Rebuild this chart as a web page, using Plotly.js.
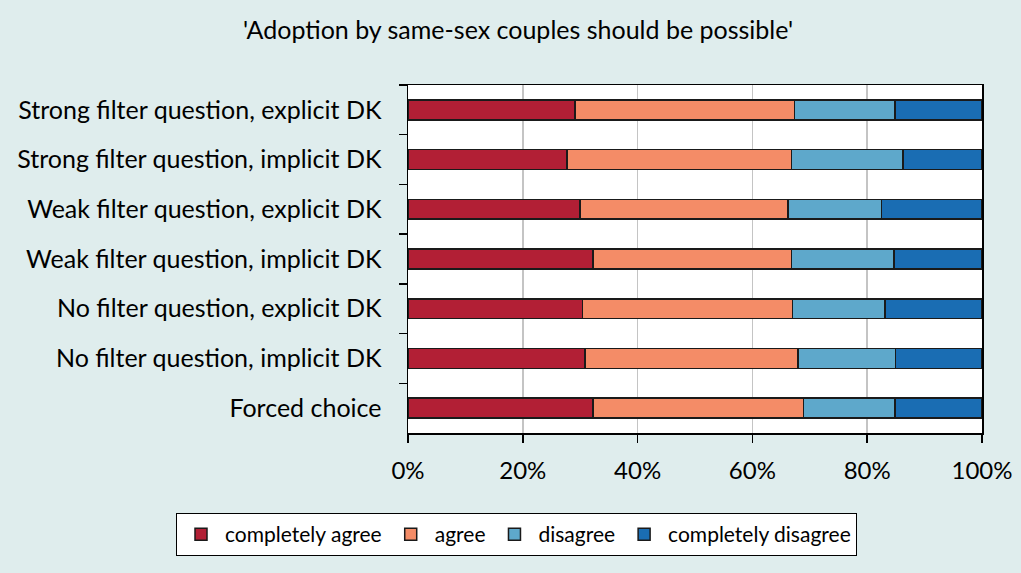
<!DOCTYPE html>
<html>
<head>
<meta charset="utf-8">
<script src="https://cdn.plot.ly/plotly-3.0.1.min.js"></script>
<style>html,body{margin:0;padding:0;background:#DFEDED;}#chart{width:1021px;height:573px;}</style>
</head>
<body>
<div id="chart"></div>
<script>
const categories = [
  "Strong filter question, explicit DK",
  "Strong filter question, implicit DK",
  "Weak filter question, explicit DK",
  "Weak filter question, implicit DK",
  "No filter question, explicit DK",
  "No filter question, implicit DK",
  "Forced choice"
];
const completelyAgree    = [29.1, 27.7, 30.0, 32.2, 30.4, 30.8, 32.2];
const agree              = [38.2, 39.1, 36.2, 34.6, 36.6, 37.1, 36.7];
const disagree           = [17.5, 19.4, 16.3, 17.9, 16.1, 17.0, 15.9];
const completelyDisagree = [15.2, 13.8, 17.5, 15.3, 16.9, 15.1, 15.2];
const seriesNames = ["completely agree", "agree", "disagree", "completely disagree"];
const seriesColors = ["#B21F35", "#F48C67", "#5EA8CB", "#1A6DB3"];
const tickVals = [0, 20, 40, 60, 80, 100];
const tickText = ["0%", "20%", "40%", "60%", "80%", "100%"];

const FONT = "Lato, 'Open Sans', sans-serif";
const seriesData = [completelyAgree, agree, disagree, completelyDisagree];
const traces = seriesData.map((vals, i) => ({
  type: "bar",
  orientation: "h",
  name: seriesNames[i],
  y: categories,
  x: vals,
  width: 0.4,
  marker: {color: seriesColors[i], line: {color: "#1a1a1a", width: 1.5}},
  hoverinfo: "x+y+name"
}));

const PL = 408, PW = 574, PT = 85, PH = 348;
const layout = {
  width: 1021, height: 573,
  paper_bgcolor: "#DFEDED",
  plot_bgcolor: "#FFFFFF",
  barmode: "stack",
  bargap: 0.6,
  margin: {l: PL, r: 1021 - PL - PW, t: PT, b: 573 - PT - PH},
  font: {family: FONT, color: "#000000"},
  title: {
    text: "'Adoption by same-sex couples should be possible'",
    font: {family: FONT, size: 25, color: "#000"},
    xref: "container", x: 518/1021, xanchor: "center",
    yref: "container", y: 1 - 30/573, yanchor: "middle"
  },
  xaxis: {
    range: [0, 100],
    tickvals: tickVals, ticktext: tickText,
    ticks: "outside", ticklen: 8, tickcolor: "#000", tickwidth: 1.5,
    showline: true, linecolor: "#000", linewidth: 1.5, mirror: true,
    showgrid: true, gridcolor: "#C4C4C4", gridwidth: 1.5,
    zeroline: false,
    tickfont: {family: FONT, size: 24, color: "#000"},
    ticklabelstandoff: 8,
    fixedrange: true
  },
  yaxis: {
    type: "category",
    autorange: "reversed",
    ticks: "outside", ticklen: 8, tickcolor: "#000", tickwidth: 1.5,
    tickson: "boundaries",
    showline: true, linecolor: "#000", linewidth: 1.5, mirror: true,
    showgrid: false,
    tickfont: {family: FONT, size: 25, color: "#000"},
    ticklabelstandoff: 20,
    fixedrange: true
  },
  showlegend: true,
  legend: {
    orientation: "h",
    xref: "paper", x: (176 - PL) / PW, xanchor: "left",
    yref: "paper", y: (PT + PH - 513) / PH, yanchor: "top",
    bgcolor: "#FFFFFF", bordercolor: "#000", borderwidth: 1,
    font: {family: FONT, size: 21, color: "#000"},
    itemwidth: 38,
    traceorder: "normal"
  }
};

Plotly.newPlot("chart", traces, layout, {displayModeBar: false, staticPlot: true});
</script>
</body>
</html>
